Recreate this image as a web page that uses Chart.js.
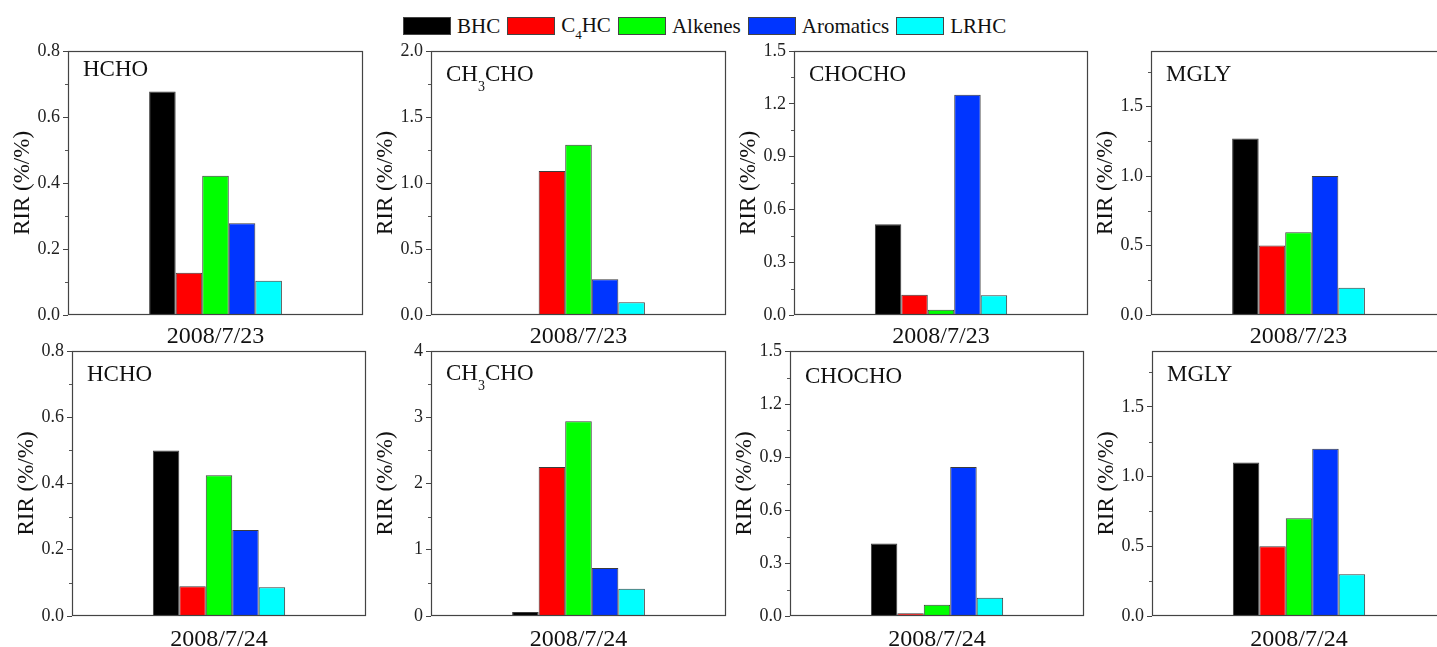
<!DOCTYPE html>
<html>
<head>
<meta charset="utf-8">
<title>RIR</title>
<script src="https://cdn.jsdelivr.net/npm/chart.js@4.4.0/dist/chart.umd.min.js"></script>
<style>
  body { margin: 0; width: 1437px; height: 647px; overflow: hidden; background: #fff; position: relative;
         font-family: 'Liberation Serif', 'Times New Roman', serif; }
  #legend { position: absolute; left: 403px; top: 16px; display: flex; align-items: center;
            font-size: 21px; line-height: 18px; color: #111; white-space: nowrap; }
  #legend .item { display: flex; align-items: center; margin-right: 7px; }
  #legend .box { display: inline-block; width: 46px; height: 16px; border: 1px solid #444; margin-right: 6px; }
  #legend sub { font-size: 13px; vertical-align: -7px; line-height: 0; }
  canvas { position: absolute; }
</style>
</head>
<body>
<div id="legend"></div>
<script>
// data
var seriesNames = ['BHC', 'C_4HC', 'Alkenes', 'Aromatics', 'LRHC'];
var species = ['HCHO', 'CH_3CHO', 'CHOCHO', 'MGLY'];
var dates = ['2008/7/23', '2008/7/24'];

var hcho0723   = [0.677, 0.128, 0.422, 0.278, 0.104];
var ch3cho0723 = [0.008, 1.09, 1.29, 0.27, 0.096];
var chocho0723 = [0.515, 0.115, 0.03, 1.252, 0.112];
var mgly0723   = [1.27, 0.50, 0.595, 1.0, 0.196];

var hcho0724   = [0.50, 0.09, 0.425, 0.26, 0.087];
var ch3cho0724 = [0.06, 2.25, 2.94, 0.725, 0.41];
var chocho0724 = [0.411, 0.015, 0.064, 0.844, 0.104];
var mgly0724   = [1.10, 0.50, 0.70, 1.20, 0.30];

// y axis ranges / tick steps / decimals, per date row
var yMax23  = [0.8, 2.0, 1.5, 1.9];
var yStep23 = [0.2, 0.5, 0.3, 0.5];
var yDec23  = [1, 1, 1, 1];
var yMax24  = [0.8, 4, 1.5, 1.9];
var yStep24 = [0.2, 1, 0.3, 0.5];
var yDec24  = [1, 0, 1, 1];

// styles
var FONT = "'Liberation Serif', 'Times New Roman', serif";
var seriesColors = ['#000000', '#ff0000', '#00ff00', '#0035ff', '#00ffff'];

var rowValues = [[hcho0723, ch3cho0723, chocho0723, mgly0723], [hcho0724, ch3cho0724, chocho0724, mgly0724]];
var rowMax = [yMax23, yMax24], rowStep = [yStep23, yStep24], rowDec = [yDec23, yDec24];

// layout of plot areas
var boxes = [
  {x: 68, y: 51, w: 295, h: 264}, {x: 431, y: 51, w: 295, h: 264},
  {x: 794, y: 51, w: 294, h: 264}, {x: 1151, y: 51, w: 295, h: 264},
  {x: 72, y: 351, w: 294, h: 265}, {x: 431, y: 351, w: 295, h: 265},
  {x: 790, y: 351, w: 294, h: 265}, {x: 1152, y: 351, w: 294, h: 265}
];
var titleDy = [25, 30, 30, 30, 30, 29, 32, 30];
var xPad = [7, 9];
var Y_W = 68, PAD_T = 14, PAD_R = 3, X_H = 36;

// legend
var legend = document.getElementById('legend');
seriesNames.forEach(function(n, k) {
  var it = document.createElement('span');
  it.className = 'item';
  it.innerHTML = '<span class="box" style="background:' + seriesColors[k] + '"></span>' +
                 '<span>' + n.replace(/_(\d)/, '<sub>$1</sub>') + '</span>';
  legend.appendChild(it);
});

function drawRich(ctx, text, x, y, size) {
  text.split(/(_\d)/).forEach(function(p) {
    if (!p) return;
    if (p[0] === '_') {
      ctx.font = Math.round(size * 0.6) + 'px ' + FONT;
      ctx.fillText(p.slice(1), x, y + size * 0.42);
      x += ctx.measureText(p.slice(1)).width;
    } else {
      ctx.font = size + 'px ' + FONT;
      ctx.fillText(p, x, y);
      x += ctx.measureText(p).width;
    }
  });
}

boxes.forEach(function(b, i) {
  var row = Math.floor(i / 4), col = i % 4;
  var values = rowValues[row][col];
  var step = rowStep[row][col], dec = rowDec[row][col];

  var canvas = document.createElement('canvas');
  canvas.width = Y_W + b.w + PAD_R;
  canvas.height = PAD_T + b.h + X_H;
  canvas.style.left = (b.x - Y_W) + 'px';
  canvas.style.top = (b.y - PAD_T) + 'px';
  document.body.appendChild(canvas);

  var extras = {
    id: 'extras' + i,
    afterDraw: function(chart) {
      var ctx = chart.ctx, a = chart.chartArea, ys = chart.scales.y;
      ctx.save();
      // frame
      ctx.strokeStyle = '#444';
      ctx.lineWidth = 1.2;
      ctx.strokeRect(Math.round(a.left) + 0.5, Math.round(a.top) + 0.5,
                     Math.round(a.right - a.left) - 1, Math.round(a.bottom - a.top) - 1);
      // minor ticks
      ctx.lineWidth = 1;
      ctx.strokeStyle = '#555';
      ys.ticks.forEach(function(t) {
        var m = t.value + step / 2;
        if (m < ys.max - 1e-9) {
          var py = Math.round(ys.getPixelForValue(m)) + 0.5;
          ctx.beginPath();
          ctx.moveTo(a.left - 3, py);
          ctx.lineTo(a.left, py);
          ctx.stroke();
        }
      });
      // panel title
      ctx.fillStyle = '#111';
      ctx.textBaseline = 'alphabetic';
      ctx.textAlign = 'left';
      drawRich(ctx, species[col], a.left + 15, a.top + titleDy[i], 23);
      ctx.restore();
    }
  };

  new Chart(canvas, {
    type: 'bar',
    data: {
      labels: [dates[row]],
      datasets: seriesNames.map(function(name, k) {
        return {
          label: name.replace('_', ''),
          data: [values[k]],
          backgroundColor: seriesColors[k],
          borderColor: '#3c3c3c',
          borderWidth: 1,
          categoryPercentage: 0.45,
          barPercentage: 1
        };
      })
    },
    options: {
      responsive: false,
      animation: false,
      devicePixelRatio: 1,
      layout: {padding: {top: PAD_T, right: PAD_R, left: 0, bottom: 0}},
      plugins: {legend: {display: false}, tooltip: {enabled: false}},
      scales: {
        x: {
          grid: {display: false, drawTicks: false},
          border: {display: false},
          ticks: {font: {family: FONT, size: 24}, color: '#111', padding: xPad[row], maxRotation: 0},
          afterFit: function(s) { s.height = X_H; }
        },
        y: {
          min: 0,
          max: rowMax[row][col],
          border: {display: false},
          grid: {drawOnChartArea: false, tickLength: 5, tickColor: '#444', tickWidth: 1},
          ticks: {
            stepSize: step,
            font: {family: FONT, size: 18},
            color: '#222',
            padding: 3,
            callback: function(v) { return Number(v).toFixed(dec); }
          },
          afterBuildTicks: function(s) {
            s.ticks = s.ticks.filter(function(t) {
              var r = t.value / step;
              return Math.abs(r - Math.round(r)) < 1e-6;
            });
          },
          title: {display: true, text: 'RIR (%/%)', font: {family: FONT, size: 23}, color: '#111',
                  padding: {top: 9, bottom: 0}},
          afterFit: function(s) { s.width = Y_W; }
        }
      }
    },
    plugins: [extras]
  });
});
</script>
</body>
</html>
